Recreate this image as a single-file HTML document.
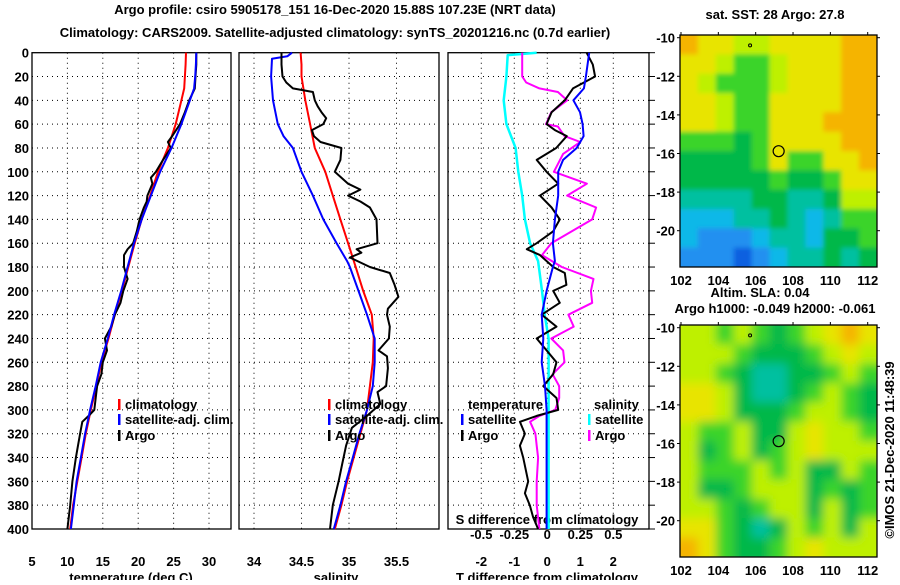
<!DOCTYPE html>
<html><head><meta charset="utf-8"><style>
body{margin:0;background:#fff;}
svg text{font-family:"Liberation Sans",Arial,sans-serif;font-weight:bold;font-size:13px;fill:#000;}
</style></head><body>
<svg id="c" width="900" height="580" viewBox="0 0 900 580" xmlns="http://www.w3.org/2000/svg">
<text x="335" y="14" text-anchor="middle" font-size="13.5">Argo profile: csiro 5905178_151 16-Dec-2020 15.88S 107.23E (NRT data)</text>
<text x="335" y="37" text-anchor="middle" font-size="13.5">Climatology: CARS2009. Satellite-adjusted climatology: synTS_20201216.nc (0.7d earlier)</text>
<g id="g"></g>
</svg>
<script>
// ---------- data ----------
const depthsClim = [0,10,20,30,40,60,80,100,120,140,160,180,200,220,240,260,280,300,320,340,360,380,400];
const tempClim = [26.75,26.7,26.6,26.5,26.1,25.3,24.2,22.8,21.7,20.5,19.5,18.6,17.7,16.7,15.8,14.8,14.1,13.3,12.6,12.0,11.4,10.8,10.4];
const tempSat = [28.2,28.15,28.05,27.9,27.3,26.1,24.7,23.1,21.8,20.5,19.4,18.5,17.6,16.6,15.7,14.7,14.0,13.2,12.5,11.9,11.3,10.9,10.5];
const depthsArgoT = [0,10,20,30,35,40,50,60,70,75,80,90,100,105,110,120,125,130,140,150,160,165,170,180,190,200,210,220,230,240,250,260,270,280,290,300,305,310,320,330,340,360,380,400];
const tempArgo = [28.2,28.2,28.1,28.0,27.6,27.2,26.6,25.9,24.8,24.2,24.6,23.5,22.5,21.8,22.0,21.3,21.2,20.8,20.2,19.8,19.3,18.5,18.0,18.0,18.5,17.9,17.5,16.7,16.2,15.3,15.6,15.0,14.8,14.2,14.0,13.8,13.0,12.1,11.8,11.5,11.2,10.7,10.4,10.0];
const salClim = [34.49,34.5,34.5,34.52,34.54,34.59,34.64,34.75,34.83,34.91,34.99,35.07,35.15,35.24,35.26,35.25,35.22,35.19,35.12,35.05,34.98,34.92,34.85];
const depthsSat = [0,3,5,20,40,60,70,80,100,120,140,160,175,180,200,220,240,260,280,300,320,340,360,380,400];
const salSat = [34.4,34.35,34.19,34.18,34.2,34.25,34.31,34.41,34.5,34.62,34.73,34.87,34.98,35.01,35.1,35.19,35.27,35.27,35.25,35.19,35.11,35.04,34.97,34.91,34.84];
const depthsArgoS = [0,10,20,25,30,33,40,45,50,55,60,65,70,75,80,90,100,110,115,120,125,130,140,160,165,168,172,180,185,195,205,215,220,230,240,250,255,265,280,285,295,305,315,330,345,360,380,400];
const salArgo = [34.29,34.29,34.3,34.34,34.41,34.62,34.64,34.67,34.71,34.76,34.73,34.61,34.63,34.7,34.92,34.91,34.85,34.99,35.12,34.99,35.12,35.22,35.29,35.3,35.08,35.13,35.01,35.22,35.43,35.48,35.52,35.41,35.4,35.43,35.42,35.31,35.4,35.41,35.39,35.3,35.33,35.19,35.03,34.97,34.93,34.89,34.83,34.8];
const depthsDT = [0,20,30,40,50,60,70,80,90,100,120,140,160,175,180,200,220,240,260,280,300,320,400];
const dTsat = [1.27,1.17,1.11,0.79,0.99,1.07,1.1,0.89,0.48,0.33,0.33,0.23,0.17,0.23,0.17,-0.02,-0.17,-0.12,-0.17,-0.07,-0.02,-0.02,-0.02];
const depthsDTargo = [0,10,20,30,40,50,60,65,70,80,90,100,110,120,130,140,150,160,165,170,180,185,195,200,210,220,230,240,250,260,270,280,290,300,305,310,320,330,340,360,370,380,390,400];
const dTargo = [1.19,1.38,1.45,0.78,0.53,0.13,-0.02,0.23,0.59,0.27,-0.32,-0.02,0.33,-0.22,0.13,0.38,0.18,-0.32,-0.62,-0.22,0.18,0.53,0.58,0.18,0.38,-0.17,0.28,-0.32,-0.02,0.28,0.18,-0.12,0.28,0.33,-0.32,-0.83,-0.68,-0.83,-0.73,-0.58,-0.68,-0.53,-0.43,-0.28];
const depthsDS = [0,2,20,40,60,80,100,120,140,160,175,200,220,240,260,400];
const dSsat = [-0.08,-0.3,-0.31,-0.33,-0.31,-0.24,-0.22,-0.19,-0.17,-0.13,-0.07,-0.04,-0.02,0.01,0.01,0.01];
const depthsDSargo = [0,20,25,30,33,40,50,60,62,70,75,85,100,110,120,130,140,160,170,180,190,200,210,220,230,240,250,260,270,280,290,300,305,310,320,330,340,360,380,400];
const dSargo = [-0.19,-0.19,-0.16,-0.06,0.08,0.15,0.03,-0.01,0.08,0.13,0.25,0.12,0.05,0.3,0.15,0.37,0.34,0.03,-0.04,0.11,0.35,0.33,0.34,0.16,0.2,0.03,0.12,0.13,0.04,0.09,0.09,0.06,-0.06,-0.13,-0.09,-0.08,-0.07,-0.08,-0.08,-0.06];
const depthTicks = [0,20,40,60,80,100,120,140,160,180,200,220,240,260,280,300,320,340,360,380,400];
const tempTicks = [5,10,15,20,25,30];
const salTicks = [34,34.5,35,35.5];
const dTTicks = [-2,-1,0,1,2];
const dSTicks = [-0.5,-0.25,0,0.25,0.5];
const lonTicks = [102,104,106,108,110,112];
const latTicks = [-10,-12,-14,-16,-18,-20];
const sstGrid = ["OYYLLYYYYOO","YYLGGLYYYOO","YLGGGLYYYOO","YYLGGYYYYOO","YYLGGYYYOOO","GGGDGYYYYOO","DDDDGYGGYYO","DDDDDGDDGYY","TTTTDDTTDLL","CCCTTDTCTGG","CBBBCTTCDDG","BBBNBCTTDTD"];
const slaGrid = ["LLGLGDGLYOY","LLLGDDDGLYL","LLGDTTDDGLG","YYLDTTDGLGD","YYLDDDGLLGD","LGGLDDLYLLG","LDGLDGLYLLL","LGGGLGLDDLG","LDDGLLLDGDG","LLGDGLLDLDG","YYGDTDLGLDL","OYGDDGLYLLL"];
const argoLon = 107.23, argoLat = -15.88;

// ---------- helpers ----------
const NS='http://www.w3.org/2000/svg';
const root=document.getElementById('g');
function mk(tag,attrs,parent){const e=document.createElementNS(NS,tag);for(const k in attrs)e.setAttribute(k,attrs[k]);(parent||root).appendChild(e);return e;}
const yTop=52.7,yBot=529;
function yD(d){return yTop+(d/400)*(yBot-yTop);}
function lin(d0,d1,r0,r1){return v=>r0+(v-d0)/(d1-d0)*(r1-r0);}
const xT=lin(5,30,32,209);
const xS=lin(34,35,254,349);
const xDT=lin(0,2,547.3,613.3);
const xDS=lin(0,0.5,547.3,613.3);
function line(xs,vals,depths,xf,color,w,name){
  const p=vals.map((v,i)=>xf(v).toFixed(1)+','+yD(depths[i]).toFixed(1)).join(' ');
  const e=mk('polyline',{points:p,fill:'none',stroke:color,'stroke-width':w,'stroke-linejoin':'round'});
  
  
}
function text(x,y,s,anchor,name,extra){
  const e=mk('text',Object.assign({x:x,y:y,'text-anchor':anchor||'start'},extra||{}));
  e.textContent=s;
  
  
  return e;
}
function panel(x0,x1,xf,ticks,name){
  const fr=mk('rect',{x:x0,y:yTop,width:x1-x0,height:yBot-yTop,fill:'#fff',stroke:'#000','stroke-width':1.3});
  
  
  depthTicks.forEach(d=>{
    if(d>0&&d<400){const l=mk('line',{x1:x0,x2:x1,y1:yD(d),y2:yD(d),stroke:'#000','stroke-width':1,'stroke-dasharray':'1,4'});
    
    }
  });
  ticks.forEach(t=>{const x=xf(t);if(x>x0+2&&x<x1-2){const l=mk('line',{x1:x,x2:x,y1:yTop,y2:yBot,stroke:'#000','stroke-width':1,'stroke-dasharray':'1,4'});
    
    }});
}
// ---------- panels ----------
panel(32,231,xT,tempTicks,'temperature-panel');
panel(239,439,xS,salTicks,'salinity-panel');
panel(448,649,xDT,dTTicks,'difference-panel');
depthTicks.forEach(d=>{text(29,yD(d)+5,String(d),'end','depth-tick-label');
  const t=mk('line',{x1:649,x2:655,y1:yD(d),y2:yD(d),stroke:'#000'});
  
  });
tempTicks.forEach(t=>text(xT(t),545+21,String(t),'middle','temperature-tick-label'));
salTicks.forEach(t=>text(xS(t),566,String(t),'middle','salinity-tick-label'));
dTTicks.forEach(t=>text(xDT(t),566,String(t),'middle','t-diff-tick-label'));
dSTicks.forEach(t=>text(xDS(t),539,String(t),'middle','s-diff-tick-label'));
text(131,582,'temperature (deg C)','middle','temperature-axis-title');
text(336,582,'salinity','middle','salinity-axis-title');
text(547,582,'T difference from climatology','middle','t-diff-axis-title');
text(547,524,'S difference from climatology','middle','s-diff-axis-title');

line(0,tempClim,depthsClim,xT,'#f00',2,'temp-climatology-line');
line(0,tempArgo,depthsArgoT,xT,'#000',2,'temp-argo-line');
line(0,tempSat,depthsClim,xT,'#00f',2,'temp-satellite-line');
line(0,salClim,depthsClim,xS,'#f00',2,'sal-climatology-line');
line(0,salSat,depthsSat,xS,'#00f',2,'sal-satellite-line');
line(0,salArgo,depthsArgoS,xS,'#000',2,'sal-argo-line');
line(0,dSsat,depthsDS,xDS,'#0ff',2.5,'s-diff-satellite-line');
line(0,dSargo,depthsDSargo,xDS,'#f0f',2,'s-diff-argo-line');
line(0,dTargo,depthsDTargo,xDT,'#000',2,'t-diff-argo-line');
line(0,dTsat,depthsDT,xDT,'#00f',2,'t-diff-satellite-line');

function leg(x,y,color,label,name){
  const r=mk('rect',{x:x,y:y-10,width:2.5,height:11,fill:color});
  
  
  text(x+7,y,label,'start',name);
}
[[118,'temperature'],[328,'salinity']].forEach(([x,n])=>{
  leg(x,409,'#f00','climatology',n+'-legend-climatology');
  leg(x,424,'#00f','satellite-adj. clim.',n+'-legend-satellite');
  leg(x,440,'#000','Argo',n+'-legend-argo');
});
text(468,409,'temperature','start','diff-legend-temperature-header');
leg(461,424,'#00f','satellite','diff-legend-t-satellite');
leg(461,440,'#000','Argo','diff-legend-t-argo');
text(594,409,'salinity','start','diff-legend-salinity-header');
leg(588,424,'#0ff','satellite','diff-legend-s-satellite');
leg(588,440,'#f0f','Argo','diff-legend-s-argo');

// ---------- maps ----------
const pal={O:'#f5b400',Y:'#e8e400',L:'#bef000',G:'#3ad42a',D:'#00b84a',T:'#00c0a0',C:'#10b8e8',B:'#2090f0',N:'#1060e0'};
const mx0=680,mx1=877;
const xLon=lin(102,112,681,867.7);
function map(grid,top,bot,name,blur){
  const yLat=lin(-10,-20,top+2.7,top+2.7+193);
  const cid='clip-'+name;
  const cp=mk('clipPath',{id:cid});
  mk('rect',{x:mx0,y:top,width:mx1-mx0,height:bot-top},cp);
  const g=mk('g',{'clip-path':'url(#'+cid+')'});
  
  
  const inner=mk('g',{filter:'url(#'+blur+')'},g);
  const nr=grid.length,nc=grid[0].length,cw=(mx1-mx0)/nc,ch=(bot-top)/nr;
  grid.forEach((row,r)=>{[...row].forEach((c,k)=>{
    const ex=(k===0||k===nc-1||r===0||r===nr-1)?8:0;
    const e=mk('rect',{x:mx0+k*cw-(k===0?ex:0),y:top+r*ch-(r===0?ex:0),width:cw+0.5+(k===0||k===nc-1?ex:0),height:ch+0.5+(r===0||r===nr-1?ex:0),fill:pal[c]},inner);
    
    
  });});
  const f=mk('rect',{x:mx0,y:top,width:mx1-mx0,height:bot-top,fill:'none',stroke:'#000','stroke-width':1.3});
  
  
  latTicks.forEach(l=>{text(675,yLat(l)+5,String(l),'end',name+'-lat-label');
    const t1=mk('line',{x1:mx0-3,x2:mx0,y1:yLat(l),y2:yLat(l),stroke:'#000'});
    
    
    const t2=mk('line',{x1:mx1,x2:mx1+3,y1:yLat(l),y2:yLat(l),stroke:'#000'});
    
    });
  lonTicks.forEach(l=>{text(xLon(l),bot+18,String(l),'middle',name+'-lon-label');
    const t=mk('line',{x1:xLon(l),x2:xLon(l),y1:top-3,y2:top,stroke:'#000'});
    
    });
  const c=mk('circle',{cx:xLon(argoLon),cy:yLat(argoLat),r:5.5,fill:'none',stroke:'#000','stroke-width':1.2});
  
  
  const m=mk('circle',{cx:xLon(105.7),cy:yLat(-10.4),r:1.5,fill:'none',stroke:'#000','stroke-width':1});
  
  
}
const defs=mk('defs',{});
const fl=mk('filter',{id:'blur5',x:'-5%',y:'-5%',width:'110%',height:'110%'},defs);
mk('feGaussianBlur',{stdDeviation:5},fl);
const fl2=mk('filter',{id:'blur2',x:'-5%',y:'-5%',width:'110%',height:'110%'},defs);
mk('feGaussianBlur',{stdDeviation:2.5},fl2);
map(sstGrid,35,267,'sst-map','blur2');
map(slaGrid,325,557,'sla-map','blur5');
text(775,19,'sat. SST: 28 Argo: 27.8','middle','sst-map-title');
text(760,297,'Altim. SLA: 0.04','middle','sla-value-label');
text(775,313,'Argo h1000: -0.049 h2000: -0.061','middle','sla-map-title');
text(894,450,'©IMOS 21-Dec-2020 11:48:39','middle','imos-credit',{transform:'rotate(-90 894 450)','font-weight':'normal'});
</script>
</body></html>
